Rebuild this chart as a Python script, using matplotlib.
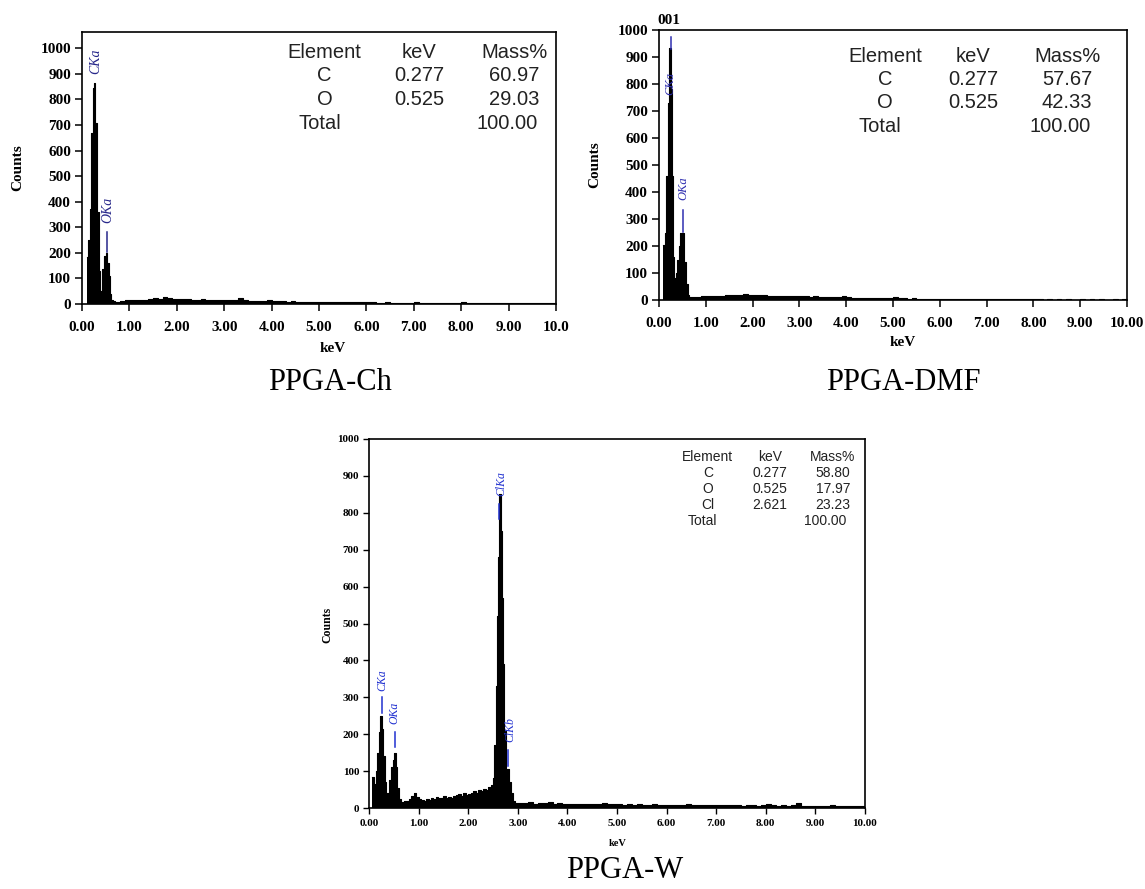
"""EDS spectra of PPGA-Ch, PPGA-DMF and PPGA-W."""

import numpy as np
import matplotlib
matplotlib.use("Agg")
import matplotlib.pyplot as plt

SERIF = "Liberation Serif"
SANS = "Liberation Sans"

# --- PPGA-Ch spectrum -------------------------------------------------
ch_peak_keV = [0.10, 0.13, 0.16, 0.19, 0.23, 0.25, 0.28, 0.31, 0.35, 0.39,
               0.43, 0.47, 0.51, 0.53, 0.56, 0.59, 0.62, 0.66]
ch_peak_cts = [182, 250, 370, 669, 844, 864, 708, 360, 130, 52,
               136, 188, 200, 160, 110, 40, 15, 10]
ch_tail_cts = [8, 12, 14, 15, 16, 15, 17, 20, 22, 21,
               26, 25, 20, 18, 20, 18, 16, 17, 20, 16,
               16, 15, 15, 16, 14, 14, 22, 14, 13, 12,
               13, 12, 14, 11, 10, 10, 9, 10, 9, 8,
               9, 8, 9, 8, 8, 7, 8, 7, 6, 7,
               6, 7, 6, 6, 6, 5, 5, 8, 5, 5,
               4, 5, 4, 7, 4, 4, 3, 4, 3, 4,
               3, 4, 3, 7, 3, 3, 2, 3, 2, 3,
               2, 3, 2, 4, 2, 3, 2, 3, 2, 2,
               3, 2, 3]

# --- PPGA-DMF spectrum ------------------------------------------------
dmf_peak_keV = [0.08, 0.13, 0.16, 0.19, 0.22, 0.25, 0.27, 0.29, 0.32, 0.36,
                0.39, 0.42, 0.45, 0.53, 0.57, 0.61, 0.65]
dmf_peak_cts = [205, 250, 460, 730, 935, 780, 460, 160, 80, 100,
                150, 200, 250, 140, 60, 20, 12]
dmf_tail_cts = [10, 12, 14, 15, 14, 16, 15, 18, 20, 19,
                20, 21, 19, 20, 18, 17, 16, 15, 16, 14,
                15, 14, 15, 14, 13, 12, 13, 12, 12, 11,
                12, 11, 13, 10, 9, 9, 8, 9, 8, 8,
                7, 8, 7, 10, 6, 6, 5, 6, 5, 5,
                5, 4, 5, 4, 4, 4, 3, 4, 3, 3,
                3, 3, 3, 5, 3, 3, 2, 3, 2, 3,
                2, 3, 2, 4, 2, 0, 3, 0, 2, 0,
                3, 0, 0, 3, 0, 2, 0, 3, 0, 0,
                3, 0, 2]

# --- PPGA-W spectrum --------------------------------------------------
w_low_keV = [0.07, 0.10, 0.14, 0.17, 0.20, 0.23, 0.26, 0.29, 0.32, 0.35,
             0.40, 0.44, 0.48, 0.51, 0.54, 0.57, 0.60, 0.64]
w_low_cts = [85, 65, 100, 150, 205, 250, 215, 140, 70, 40,
             75, 110, 130, 148, 110, 55, 25, 15]
w_mid_cts = [18, 20, 25, 32, 42, 30, 25, 22, 18, 25, 22, 28,
             24, 30, 26, 28, 32, 28, 30, 27, 32, 35, 38, 33,
             40, 36, 38, 42, 45, 40, 48, 45, 52, 50, 58, 62]
w_cl_keV = [2.50, 2.53, 2.56, 2.59, 2.61, 2.63, 2.66, 2.68, 2.70, 2.73,
            2.76, 2.79, 2.83, 2.86, 2.90, 2.95]
w_cl_cts = [80, 170, 330, 520, 680, 850, 750, 570, 390, 210,
            95, 105, 70, 40, 20, 14]
w_tail_cts = [14, 13, 15, 12, 13, 14, 15, 12, 13, 12,
              12, 11, 12, 10, 11, 12, 11, 13, 10, 11,
              10, 9, 10, 9, 10, 9, 8, 10, 9, 9,
              9, 8, 9, 8, 10, 8, 9, 8, 7, 8,
              7, 8, 7, 9, 7, 6, 7, 7, 6, 7,
              11, 8, 6, 7, 6, 8, 14, 6, 6, 5,
              6, 5, 6, 7, 5, 6, 5, 6, 5, 5]

# --- quantification tables -------------------------------------------
ch_elements = ["C", "O"]
ch_kev = ["0.277", "0.525"]
ch_mass = ["60.97", "29.03"]
dmf_elements = ["C", "O"]
dmf_kev = ["0.277", "0.525"]
dmf_mass = ["57.67", "42.33"]
w_elements = ["C", "O", "Cl"]
w_kev = ["0.277", "0.525", "2.621"]
w_mass = ["58.80", "17.97", "23.23"]
total_mass = "100.00"

y_ticks = list(range(0, 1001, 100))
x_ticks = list(range(0, 11))


def build(parts):
    keV, cts = [], []
    for e, c in parts:
        keV.extend(e)
        cts.extend(c)
    keV.append(10.0)
    cts.append(cts[-1])
    return np.array(keV), np.array(cts)


def draw_spectrum(ax, keV, cts):
    ax.fill_between(keV, cts, step="post", color="black", lw=0)
    ax.step(keV, cts, where="post", color="black", lw=0.8)


def style_axes(ax, ymax, tick_fs, last_label="10.00", xpad=3):
    ax.set_xlim(0, 10)
    ax.set_ylim(0, ymax)
    ax.set_xticks(x_ticks)
    labels = [f"{v:.2f}" for v in x_ticks]
    labels[-1] = last_label
    ax.set_xticklabels(labels)
    ax.set_yticks(y_ticks)
    for lab in ax.get_xticklabels() + ax.get_yticklabels():
        lab.set_fontfamily(SERIF)
        lab.set_fontweight("bold")
        lab.set_fontsize(tick_fs)
    ax.tick_params(direction="out", length=5, width=1.1, top=False, right=False,
                   pad=3)
    ax.tick_params(axis="x", pad=xpad)
    for s in ax.spines.values():
        s.set_linewidth(1.2)


def marker(ax, x, y0, y1, text, ty, color, fs, tx=None):
    if y1 > y0:
        ax.plot([x, x], [y0, y1], color=color, lw=1.1)
    ax.text(x if tx is None else tx, ty, text, rotation=90, ha="center", va="bottom",
            color=color, fontsize=fs, family=SERIF, style="italic")


def table(ax, elements, kev, mass, cols, rows, fs):
    kw = dict(transform=ax.transAxes, family=SANS, fontsize=fs, color="#222222",
              ha="center", va="center")
    ax.text(cols[0], rows[0], "Element", **kw)
    ax.text(cols[1], rows[0], "keV", **kw)
    ax.text(cols[2], rows[0], "Mass%", **kw)
    for i, (el, k, m) in enumerate(zip(elements, kev, mass)):
        ax.text(cols[0], rows[i + 1], el, **kw)
        ax.text(cols[1], rows[i + 1], k, **kw)
        ax.text(cols[2], rows[i + 1], m, **kw)
    ax.text(cols[0] - 0.01, rows[len(elements) + 1], "Total", **kw)
    ax.text(cols[2] - 0.015, rows[len(elements) + 1], total_mass, **kw)


W, H = 1145, 889
fig = plt.figure(figsize=(W / 100, H / 100), dpi=100)


def px_axes(left, right, top, bottom):
    return fig.add_axes([left / W, 1 - bottom / H, (right - left) / W, (bottom - top) / H])


# PPGA-Ch
ax1 = px_axes(82, 556, 32, 304)
e, c = build([(ch_peak_keV, ch_peak_cts),
              (np.round(np.arange(0.70, 9.95, 0.1), 2), ch_tail_cts)])
draw_spectrum(ax1, e, c)
style_axes(ax1, 1064, 11, last_label="10.0", xpad=7)
navy = "#27278a"
marker(ax1, 0.30, 0, 0, "CKa", 900, navy, 10)
marker(ax1, 0.52, 205, 282, "OKa", 318, navy, 10, tx=0.54)
table(ax1, ch_elements, ch_kev, ch_mass, [0.512, 0.712, 0.912],
      [0.925, 0.841, 0.753, 0.665], 14.5)
fig.text(18 / W, 1 - 168 / H, "Counts", rotation=90, ha="center", va="center",
         family=SERIF, fontweight="bold", fontsize=11)
fig.text(333 / W, 1 - 348 / H, "keV", ha="center", va="center",
         family=SERIF, fontweight="bold", fontsize=11)
fig.text(330 / W, 1 - 383 / H, "PPGA-Ch", ha="center", va="center",
         family=SERIF, fontsize=22)

# PPGA-DMF
ax2 = px_axes(659, 1127, 30, 300)
e, c = build([(dmf_peak_keV, dmf_peak_cts),
              (np.round(np.arange(0.70, 9.95, 0.1), 2), dmf_tail_cts)])
draw_spectrum(ax2, e, c)
style_axes(ax2, 1000, 11, xpad=7)
blue2 = "#2f2fb0"
marker(ax2, 0.25, 930, 975, "CKa", 760, blue2, 9)
marker(ax2, 0.52, 252, 335, "OKa", 370, blue2, 9)
table(ax2, dmf_elements, dmf_kev, dmf_mass, [0.483, 0.671, 0.872],
      [0.9, 0.815, 0.73, 0.641], 14.5)
fig.text(669 / W, 1 - 20 / H, "001", ha="center", va="center",
         family=SERIF, fontweight="bold", fontsize=11)
fig.text(595 / W, 1 - 165 / H, "Counts", rotation=90, ha="center", va="center",
         family=SERIF, fontweight="bold", fontsize=11)
fig.text(903 / W, 1 - 343 / H, "keV", ha="center", va="center",
         family=SERIF, fontweight="bold", fontsize=11)
fig.text(903 / W, 1 - 383 / H, "PPGA-DMF", ha="center", va="center",
         family=SERIF, fontsize=22)

# PPGA-W
ax3 = px_axes(369, 865, 439, 808)
e, c = build([(w_low_keV, w_low_cts),
              (np.round(np.arange(0.70, 2.475, 0.05), 2), w_mid_cts),
              (w_cl_keV, w_cl_cts),
              (np.round(np.arange(3.0, 9.95, 0.1), 2), w_tail_cts)])
draw_spectrum(ax3, e, c)
style_axes(ax3, 1000, 8, xpad=4)
ax3.tick_params(length=4, width=1.0)
blue3 = "#2030d0"
marker(ax3, 0.26, 258, 301, "CKa", 318, blue3, 8.5)
marker(ax3, 0.52, 165, 206, "OKa", 228, blue3, 8.5)
marker(ax3, 2.62, 784, 824, "ClKa", 846, blue3, 8.5, tx=2.66)
marker(ax3, 2.81, 113, 158, "ClKb", 178, blue3, 8.5, tx=2.84)
table(ax3, w_elements, w_kev, w_mass, [0.683, 0.808, 0.935],
      [0.951, 0.908, 0.864, 0.821, 0.778], 10)
fig.text(327 / W, 1 - 625 / H, "Counts", rotation=90, ha="center", va="center",
         family=SERIF, fontweight="bold", fontsize=8.5)
fig.text(618 / W, 1 - 843 / H, "keV", ha="center", va="center",
         family=SERIF, fontweight="bold", fontsize=7.5)
fig.text(625 / W, 1 - 870 / H, "PPGA-W", ha="center", va="center",
         family=SERIF, fontsize=22)

fig.savefig("out.png", dpi=100)
